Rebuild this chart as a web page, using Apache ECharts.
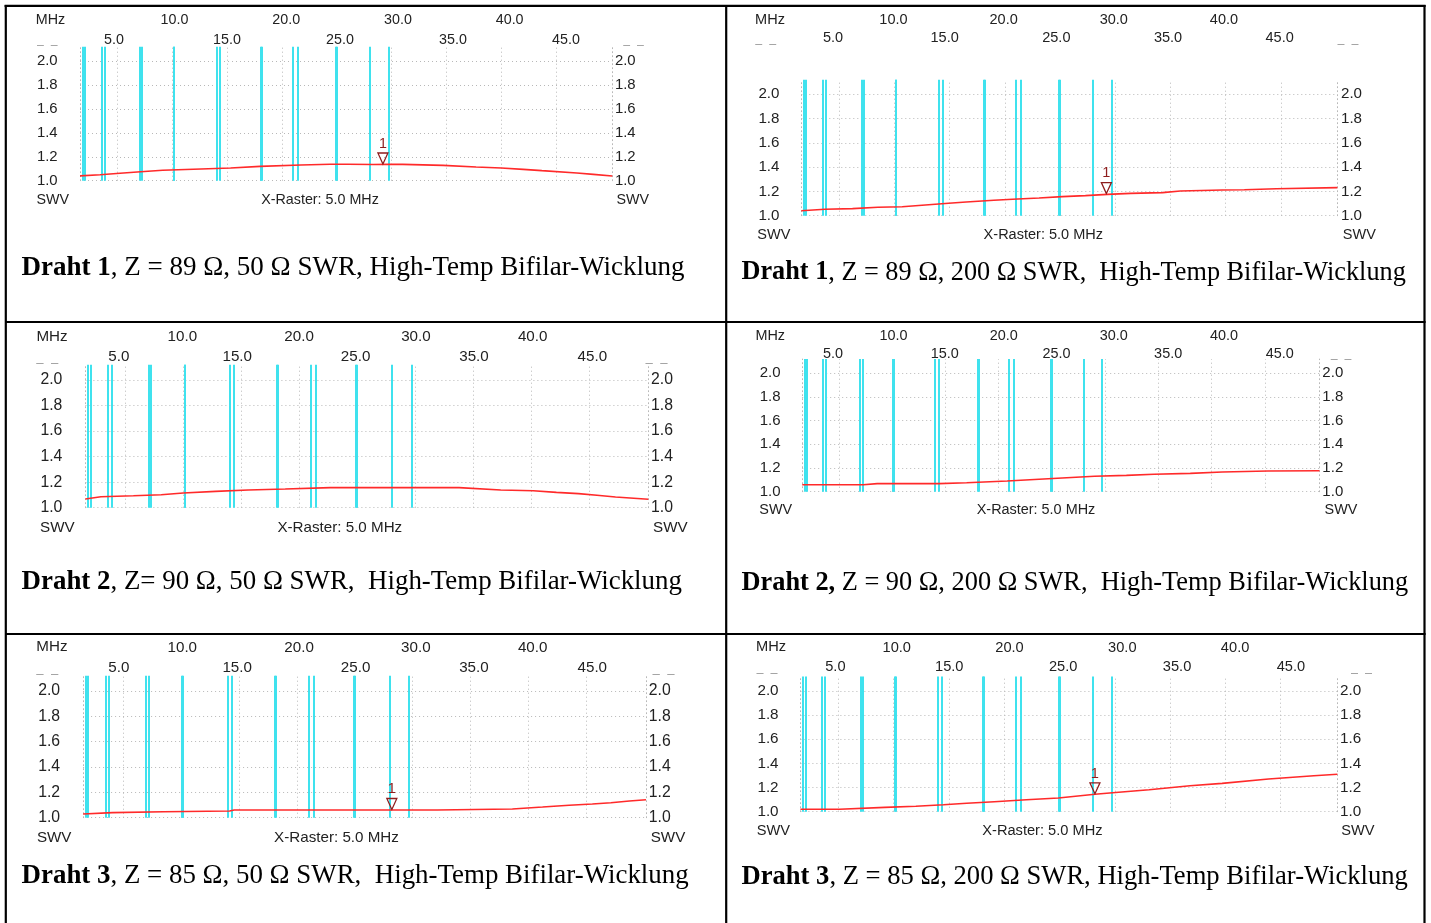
<!DOCTYPE html>
<html><head><meta charset="utf-8">
<script src="https://cdn.jsdelivr.net/npm/echarts@6/dist/echarts.min.js"></script>
<style>html,body{margin:0;padding:0;background:#fff}#c{width:1431px;height:923px}</style>
</head><body><div id="c"></div>
<script>
// ---------------- data ----------------
const bandEdgesMHz = [1.8, 2.0, 3.5, 3.8, 7.0, 7.2, 10.1, 10.15, 14.0, 14.35, 18.068, 18.168, 21.0, 21.45, 24.89, 24.99, 28.0, 29.7];
const xGridMHz = [5, 10, 15, 20, 25, 30, 35, 40, 45];
const xLabelsRow1 = [10, 20, 30, 40];
const xLabelsRow2 = [5, 15, 25, 35, 45];
const yTicks = [1.0, 1.2, 1.4, 1.6, 1.8, 2.0];
const freqRange = [1.56, 50.13];
const swrRange = [1.0, 2.12];

const draht1_50_freq = [1.56, 3.4, 4.9, 7.1, 9.1, 12.6, 15.3, 18.0, 21.7, 24.4, 26.0, 28.3, 29.7, 31.0, 34.7, 37.7, 40.0, 42.0, 43.7, 46.9, 48.4, 50.13];
const draht1_50_swr  = [1.04, 1.05, 1.06, 1.075, 1.087, 1.098, 1.106, 1.12, 1.131, 1.137, 1.138, 1.135, 1.137, 1.136, 1.128, 1.114, 1.106, 1.095, 1.084, 1.064, 1.053, 1.039];

const draht1_200_freq = [1.56, 3.7, 6.2, 8.5, 10.7, 12.8, 14.9, 16.5, 19.0, 20.7, 23.1, 25.2, 27.3, 29.3, 31.4, 34.3, 35.9, 39.7, 41.7, 44.6, 50.13];
const draht1_200_swr  = [1.041, 1.053, 1.058, 1.069, 1.074, 1.088, 1.102, 1.113, 1.127, 1.135, 1.146, 1.157, 1.165, 1.176, 1.184, 1.19, 1.203, 1.212, 1.214, 1.222, 1.231];

const draht2_50_freq = [1.56, 2.9, 5.7, 8.1, 10.0, 12.8, 15.6, 18.8, 22.7, 27.9, 33.8, 37.4, 40.2, 42.2, 44.1, 45.7, 47.3, 50.13];
const draht2_50_swr  = [1.068, 1.086, 1.094, 1.102, 1.115, 1.128, 1.139, 1.146, 1.157, 1.157, 1.157, 1.139, 1.133, 1.12, 1.11, 1.097, 1.084, 1.066];

const draht2_200_freq = [1.56, 7.3, 8.6, 14.4, 17.0, 20.8, 23.8, 26.4, 29.0, 32.0, 34.6, 38.0, 41.0, 45.3, 50.13];
const draht2_200_swr  = [1.059, 1.059, 1.068, 1.068, 1.076, 1.09, 1.105, 1.118, 1.13, 1.138, 1.147, 1.155, 1.166, 1.175, 1.177];

const draht3_50_freq = [1.56, 4.1, 8.5, 14.2, 14.6, 22.1, 30.5, 32.1, 38.6, 41.2, 43.5, 45.5, 47.1, 48.7, 50.13];
const draht3_50_swr  = [1.029, 1.04, 1.047, 1.053, 1.061, 1.061, 1.061, 1.061, 1.069, 1.084, 1.098, 1.108, 1.118, 1.132, 1.142];

const draht3_200_freq = [1.56, 5.1, 5.2, 9.2, 12.0, 14.5, 16.6, 19.1, 22.0, 24.9, 28.2, 29.8, 33.1, 36.8, 39.7, 43.9, 48.0, 50.13];
const draht3_200_swr  = [1.02, 1.02, 1.028, 1.036, 1.045, 1.058, 1.07, 1.083, 1.099, 1.114, 1.144, 1.157, 1.182, 1.215, 1.235, 1.271, 1.298, 1.31];

const markerFreq = [29.2, 29.2, null, null, 28.2, 28.2];
const markerSwr  = [1.135, 1.178, null, null, 1.061, 1.144];

const captionBold = ['Draht 1', 'Draht 1', 'Draht 2', 'Draht 2,', 'Draht 3', 'Draht 3'];
const captionRest = [
  ', Z = 89 Ω, 50 Ω SWR, High-Temp Bifilar-Wicklung',
  ', Z = 89 Ω, 200 Ω SWR,  High-Temp Bifilar-Wicklung',
  ', Z= 90 Ω, 50 Ω SWR,  High-Temp Bifilar-Wicklung',
  ' Z = 90 Ω, 200 Ω SWR,  High-Temp Bifilar-Wicklung',
  ', Z = 85 Ω, 50 Ω SWR,  High-Temp Bifilar-Wicklung',
  ', Z = 85 Ω, 200 Ω SWR, High-Temp Bifilar-Wicklung'
];

const seriesFreq = [draht1_50_freq, draht1_200_freq, draht2_50_freq, draht2_200_freq, draht3_50_freq, draht3_200_freq];
const seriesSwr  = [draht1_50_swr, draht1_200_swr, draht2_50_swr, draht2_200_swr, draht3_50_swr, draht3_200_swr];

// ---------------- layout (pixels) ----------------
const L = [
 {x0:80, x1:612.3, y1:180.7, y2:61, r1:[1.54,49.19], r2:[2.0,49.1], row1y:20.3, row2y:40, fs:13, capFs:27, mhz:[50.5,20.5], dash:[[47.3,46],[633.6,46]], swv:[[52.8,200],[632.7,200]], xr:[320,200], lblL:47.3, lblR:625.3, cap:[21.6,268.3]},
 {x0:801.3, x1:1337.4, y1:215.7, y2:94.3, r1:[1.63,50.3], r2:[2.16,50.17], row1y:20, row2y:38.3, fs:13.2, capFs:26.25, mhz:[770,20], dash:[[765.7,44.3],[1347.9,44.3]], swv:[[773.9,235],[1359.3,235]], xr:[1043.3,235], lblL:768.9, lblR:1351.5, cap:[741.5,272.7]},
 {x0:85.4, x1:648.3, y1:507.7, y2:380, r1:[1.70,49.9], r2:[2.17,49.73], row1y:337.3, row2y:357.3, fs:13.8, capFs:26.9, mhz:[52,337], dash:[[47.3,363.7],[656.6,363.7]], swv:[[57.4,528.3],[670.3,528.3]], xr:[339.8,528.3], lblL:51.4, lblR:662, cap:[21.6,581.7]},
 {x0:802.2, x1:1319.5, y1:491.7, y2:373.3, r1:[1.72,48.66], r2:[2.24,48.55], row1y:336, row2y:354.3, fs:13.1, capFs:26.35, mhz:[770.2,336], dash:[[1341,360]], swv:[[775.7,510],[1341,510]], xr:[1036,510], lblL:770.2, lblR:1332.8, cap:[741.5,583.3]},
 {x0:83.1, x1:646, y1:817.7, y2:691, r1:[1.51,49.7], r2:[1.98,49.54], row1y:648.3, row2y:668.3, fs:13.8, capFs:26.9, mhz:[51.9,647.3], dash:[[47.3,674.3],[663.5,674.3]], swv:[[54.2,838.3],[668,838.3]], xr:[336.5,838.3], lblL:49.1, lblR:659.8, cap:[21.6,876]},
 {x0:800.4, x1:1337.4, y1:811.7, y2:691, r1:[1.46,49.07], r2:[1.93,49.08], row1y:647.7, row2y:666.7, fs:13.3, capFs:26.6, mhz:[771.1,647.3], dash:[[767,673.3],[1361.5,673.3]], swv:[[773.4,831],[1357.9,831]], xr:[1042.4,831], lblL:768, lblR:1350.6, cap:[741.5,877.3]}
];

const SANS = '"Liberation Sans", Arial, sans-serif';
const SERIF = '"Liberation Serif", "Times New Roman", serif';
const TXT = '#222';
const RED = '#ff2a2a';
const CYAN = '#3fe2ee';
const GRIDC = '#b8b8b8';
const MARK = '#8e1d1d';
const FSK = 1.1;

const grids = [], xAxes = [], yAxes = [], series = [], graphics = [];

L.forEach((p, i) => {
  const fs = p.fs * FSK;
  const pxPerUnit = p.y1 - p.y2;
  const top = p.y1 - (swrRange[1] - swrRange[0]) * pxPerUnit;
  grids.push({left: p.x0, top: top, width: p.x1 - p.x0, height: p.y1 - top});
  const xi = xAxes.length, yi = yAxes.length;
  const hid = {axisLine:{show:false}, axisTick:{show:false}, splitLine:{show:false}};
  xAxes.push(Object.assign({gridIndex:i, type:'value', min:freqRange[0], max:freqRange[1], position:'bottom', axisLabel:{show:false}}, hid));
  const lab = (vals, m) => ({show:true, customValues: vals, formatter: v => v.toFixed(1), margin: m, verticalAlign:'middle', align:'center', fontFamily:SANS, fontSize:fs, color:TXT});
  xAxes.push(Object.assign({gridIndex:i, type:'value', min:p.r1[0], max:p.r1[1], position:'top', axisLabel: lab(xLabelsRow1, top - p.row1y)}, hid));
  xAxes.push(Object.assign({gridIndex:i, type:'value', min:p.r2[0], max:p.r2[1], position:'top', axisLabel: lab(xLabelsRow2, top - p.row2y)}, hid));
  const yax = (pos, m) => ({gridIndex:i, type:'value', min:swrRange[0], max:swrRange[1], position:pos,
    axisLine:{show:true, lineStyle:{color:GRIDC, type:[1,3], width:1}}, axisTick:{show:false}, splitLine:{show:false},
    axisLabel:{show:true, customValues:yTicks, formatter: v => v.toFixed(1), margin:m, align:'center', verticalAlign:'middle', fontFamily:SANS, fontSize:fs + 0.6, color:TXT}});
  yAxes.push(yax('left', p.x0 - p.lblL));
  yAxes.push(yax('right', p.lblR - p.x1));

  // dotted grid
  series.push({type:'line', xAxisIndex:xi, yAxisIndex:yi, data:[], silent:true,
    markLine:{silent:true, z:1, symbol:['none','none'], label:{show:false},
      lineStyle:{color:GRIDC, type:[1,3], width:1},
      data: xGridMHz.map(v => ({xAxis:v})).concat(yTicks.map(v => ({yAxis:v})))}});
  // band edges
  series.push({type:'line', xAxisIndex:xi, yAxisIndex:yi, data:[], silent:true,
    markLine:{silent:true, z:2, symbol:['none','none'], label:{show:false},
      lineStyle:{color:CYAN, type:'solid', width:2},
      data: bandEdgesMHz.map(v => ({xAxis:v}))}});
  // SWR trace
  const s = {type:'line', xAxisIndex:xi, yAxisIndex:yi, z:5, silent:true, symbol:'none',
    lineStyle:{color:RED, width:1.6}, itemStyle:{color:RED},
    data: seriesFreq[i].map((f, k) => [f, seriesSwr[i][k]])};
  if (markerFreq[i] != null) {
    s.markPoint = {z:6, silent:true, symbol:'triangle', symbolRotate:180, symbolSize:[10,11], symbolOffset:[0,-6],
      itemStyle:{color:'rgba(255,255,255,0)', borderColor:MARK, borderWidth:1.3},
      label:{show:true, formatter:'1', position:'top', distance:1, color:MARK, fontFamily:SANS, fontSize:fs},
      data:[{coord:[markerFreq[i], markerSwr[i]]}]};
  }
  series.push(s);

  // texts
  const t = (x, y, text, extra) => graphics.push({type:'text', x:x, y:y, silent:true,
    style: Object.assign({text:text, align:'center', verticalAlign:'middle', textAlign:'center', textVerticalAlign:'middle', fontFamily:SANS, fontSize:fs, fill:TXT}, extra || {})});
  t(p.mhz[0], p.mhz[1], 'MHz');
  p.dash.forEach(d => t(d[0], d[1], '‒  ‒', {fill:'#9a9a9a', fontSize:fs - 2}));
  p.swv.forEach(d => t(d[0], d[1], 'SWV'));
  t(p.xr[0], p.xr[1], 'X-Raster: 5.0 MHz');
  graphics.push({type:'text', x:p.cap[0], y:p.cap[1], silent:true,
    style:{text:'{b|' + captionBold[i] + '}{r|' + captionRest[i] + '}', align:'left', textAlign:'left', verticalAlign:'middle', textVerticalAlign:'middle',
      fill:'#000', fontFamily:SERIF, fontSize:p.capFs,
      rich:{b:{fontFamily:SERIF, fontSize:p.capFs, fontWeight:'bold', fill:'#000', color:'#000'}, r:{fontFamily:SERIF, fontSize:p.capFs, fill:'#000', color:'#000'}}}});
});

// table borders
const B = (x1, y1, x2, y2) => graphics.push({type:'line', silent:true, shape:{x1, y1, x2, y2}, style:{stroke:'#000', lineWidth:2.2}});
B(4.6, 5.8, 1425.6, 5.8);
B(5.8, 5, 5.8, 923);
B(1424.5, 5, 1424.5, 923);
B(726.2, 5, 726.2, 923);
B(5, 322, 1425.6, 322);
B(5, 634, 1425.6, 634);

const chart = echarts.init(document.getElementById('c'), null, {renderer:'canvas'});
chart.setOption({
  animation:false,
  backgroundColor:'#fff',
  grid: grids, xAxis: xAxes, yAxis: yAxes, series: series, graphic: graphics
});
</script></body></html>
